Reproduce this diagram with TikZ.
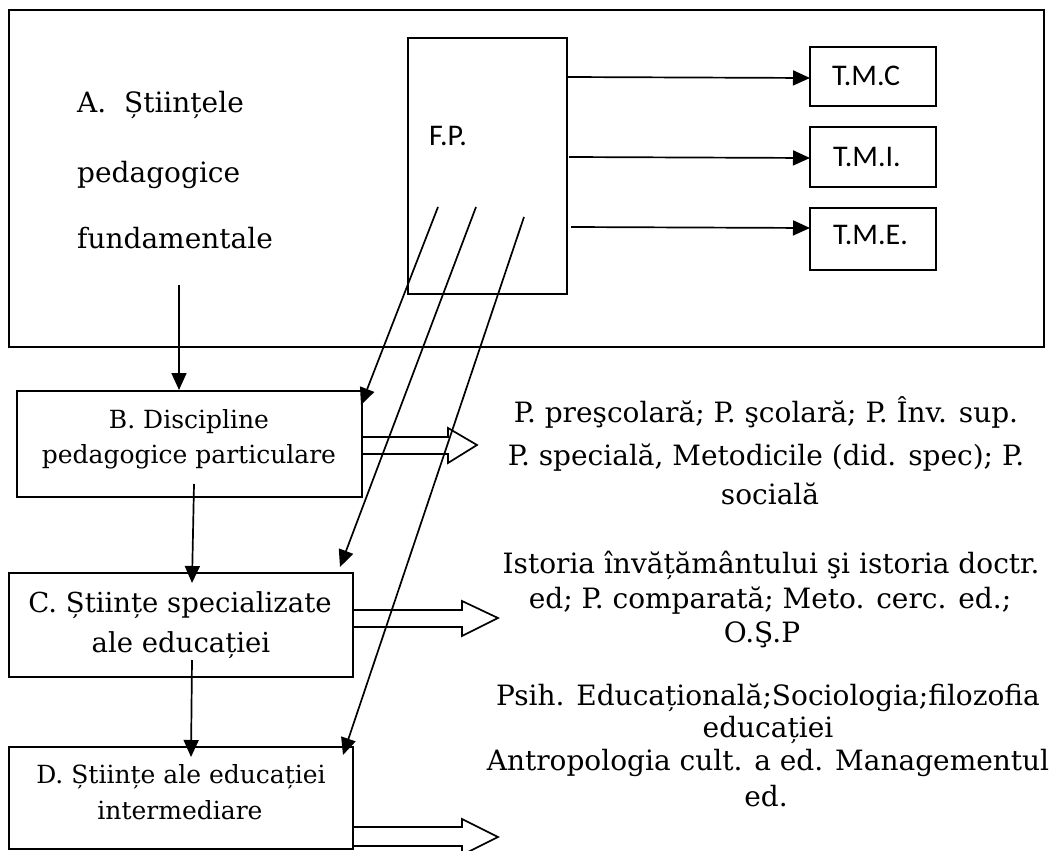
\documentclass[tikz,border=0pt]{standalone}
\usepackage{fontspec}
\setmainfont{DejaVu Serif}
\newfontfamily\calib{Carlito}
\usetikzlibrary{arrows.meta}
\begin{document}
\begin{tikzpicture}[x=1pt,y=-1pt,
  box/.style={draw, line width=2pt, inner sep=0pt},
  conn/.style={line width=1.7pt, -{Triangle[length=17pt,width=15pt]}},
  blockarrow/.style={draw, line width=1.7pt, fill=white, line join=miter},
  ta/.style={inner sep=0pt, anchor=base west, font=\fontsize{28}{32}\selectfont},
  tb/.style={inner sep=0pt, anchor=base, font=\fontsize{25}{30}\selectfont},
  tc/.style={inner sep=0pt, anchor=base, font=\fontsize{27.5}{32}\selectfont},
  td/.style={inner sep=0pt, anchor=base, font=\fontsize{25}{30}\selectfont},
  tr/.style={inner sep=0pt, anchor=base, font=\fontsize{28}{32}\selectfont},
  ts/.style={inner sep=0pt, anchor=base west, font=\calib\fontsize{30}{34}\selectfont}
]
\useasboundingbox (0,0) rectangle (1061,851);

% boxes
\node[box, minimum width=1035pt, minimum height=337pt] (A) at (526.5,178.5) {};
\node[box, minimum width=159pt, minimum height=256pt] (FP) at (487.5,166) {};
\node[box, minimum width=126pt, minimum height=59pt] (TMC) at (873,76.5) {};
\node[box, minimum width=126pt, minimum height=60pt] (TMI) at (873,157) {};
\node[box, minimum width=126pt, minimum height=62pt] (TME) at (873,239) {};
\node[box, minimum width=345pt, minimum height=106pt] (B) at (189.5,444) {};
\node[box, minimum width=344pt, minimum height=104pt] (C) at (181,625) {};
\node[box, minimum width=344pt, minimum height=102pt] (D) at (181,798) {};

% block arrows
\draw[blockarrow] (B.east |- 0,437) -- (448,437) -- (448,428) -- (477,445) -- (448,463) -- (448,454) -- (B.east |- 0,454);
\draw[blockarrow] (C.east |- 0,610) -- (462,610) -- (462,601) -- (498,618) -- (462,636) -- (462,627) -- (C.east |- 0,627);
\draw[blockarrow] (D.east |- 0,827) -- (462,827) -- (462,819) -- (498,837) -- (462,855) -- (462,846) -- (D.east |- 0,846);

% coordinates of free ends
\coordinate (s1) at (567,77);   \coordinate (e1) at (810,78);
\coordinate (s2) at (569,157);  \coordinate (e2) at (810,158);
\coordinate (s3) at (571,227);  \coordinate (e3) at (810,228);
\coordinate (sa) at (179,285);  \coordinate (ea) at (179,390);
\coordinate (sb) at (194,484);  \coordinate (eb) at (192,583);
\coordinate (sc) at (192,660);  \coordinate (ec) at (191,757);
\coordinate (d1s) at (438,207); \coordinate (d1e) at (361,405);
\coordinate (d2s) at (476,207); \coordinate (d2e) at (340,567);
\coordinate (d3s) at (524,217); \coordinate (d3e) at (343,755);

% connectors
\draw[conn] (s1) -- (e1);
\draw[conn] (s2) -- (e2);
\draw[conn] (s3) -- (e3);
\draw[conn] (sa) -- (ea);
\draw[conn] (sb) -- (eb);
\draw[conn] (sc) -- (ec);
\draw[conn] (d1s) -- (d1e);
\draw[conn] (d2s) -- (d2e);
\draw[conn] (d3s) -- (d3e);

% texts
\node[ta] (tA1) at (77,113) {A.\ \ Științele};
\node[ta] (tA2) at (77,182) {pedagogice};
\node[ta] (tA3) at (77,248) {fundamentale};
\node[ts] (tFP) at (429,145) {F.P.};
\node[ts] (tTMC) at (832,86) {T.M.C};
\node[ts] (tTMI) at (833,166) {T.M.I.};
\node[ts] (tTME) at (833,244) {T.M.E.};
\node[tb] (tB1) at (189,428) {B. Discipline};
\node[tb] (tB2) at (189,463) {pedagogice particulare};
\node[tc] (tC1) at (180,612) {C. Științe specializate};
\node[tc] (tC2) at (181,652) {ale educației};
\node[td] (tD1) at (181,783) {D. Științe ale educației};
\node[td] (tD2) at (180,819) {intermediare};
\node[tr] (r1) at (766,422) {P. preşcolară; P. şcolară; P. Înv. sup.};
\node[tr] (r2) at (766,465) {P. specială, Metodicile (did. spec); P.};
\node[tr] (r3) at (770,504) {socială};
\node[tr] (r4) at (771,573) {Istoria învățământului şi istoria doctr.};
\node[tr] (r5) at (770,608) {ed; P. comparată; Meto. cerc. ed.;};
\node[tr] (r6) at (762,642) {O.Ş.P};
\node[tr] (r7) at (768,705) {Psih. Educațională;Sociologia;filozofia};
\node[tr] (r8) at (768,737) {educației};
\node[tr] (r9) at (768,770) {Antropologia cult. a ed. Managementul};
\node[tr] (r10) at (766,806) {ed.};
\end{tikzpicture}
\end{document}
